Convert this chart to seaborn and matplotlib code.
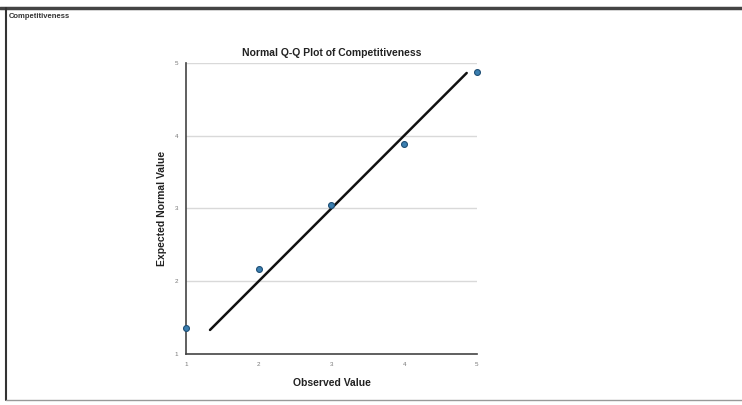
import numpy as np
import pandas as pd
import seaborn as sns
import matplotlib
matplotlib.use('Agg')
import matplotlib.pyplot as plt
from matplotlib.lines import Line2D

# data
observed = [1, 2, 3, 4, 5]
expected = [1.35, 2.17, 3.04, 3.89, 4.87]
line_x = [1.33, 4.86]
line_y = [1.33, 4.86]

sns.set_style('white')
plt.rcParams['font.family'] = ['Liberation Sans', 'DejaVu Sans']

fig = plt.figure(figsize=(7.42, 4.05), dpi=100)
ax = fig.add_axes([0.2507, 0.126, 0.392, 0.719])

df = pd.DataFrame({'Observed': observed, 'Expected': expected})
for yv in [2, 3, 4, 5]:
    ax.axhline(yv, color='#d9d9d9', lw=1, zorder=0)
sns.lineplot(x=line_x, y=line_y, ax=ax, color='#111111', lw=1.8, zorder=2)
sns.scatterplot(data=df, x='Observed', y='Expected', ax=ax, s=18,
                color='#3b7fb0', edgecolor='#1f4f75', linewidth=0.8, zorder=3,
                clip_on=False)

ax.set_xlim(1, 5)
ax.set_ylim(1, 5)
ax.set_xticks([1, 2, 3, 4, 5])
ax.set_yticks([1, 2, 3, 4, 5])
ax.tick_params(labelsize=4.5, colors='#777777', length=2, width=0.6)
for s in ['top', 'right']:
    ax.spines[s].set_visible(False)
for s in ['left', 'bottom']:
    ax.spines[s].set_color('#444444')
    ax.spines[s].set_linewidth(1.2)
ax.set_xlabel('Observed Value', fontsize=7.5, fontweight='bold', labelpad=8, color='#222222')
ax.set_ylabel('Expected Normal Value', fontsize=7.5, fontweight='bold', labelpad=6, color='#222222')
ax.set_title('Normal Q-Q Plot of Competitiveness', fontsize=7.5, fontweight='bold', pad=5,
             color='#222222')

# frame of the output window
fig.add_artist(Line2D([0, 1], [1 - 8 / 405, 1 - 8 / 405], transform=fig.transFigure,
                      color='#444444', lw=2.5))
fig.add_artist(Line2D([6 / 742, 6 / 742], [1 - 8 / 405, 5 / 405], transform=fig.transFigure,
                      color='#333333', lw=1.5))
fig.add_artist(Line2D([6 / 742, 1], [5 / 405, 5 / 405], transform=fig.transFigure,
                      color='#999999', lw=1))
fig.text(9 / 742, 1 - 16 / 405, 'Competitiveness', fontsize=5.5, fontweight='bold',
         color='#333333', va='center')

fig.savefig('out.png', dpi=100)
